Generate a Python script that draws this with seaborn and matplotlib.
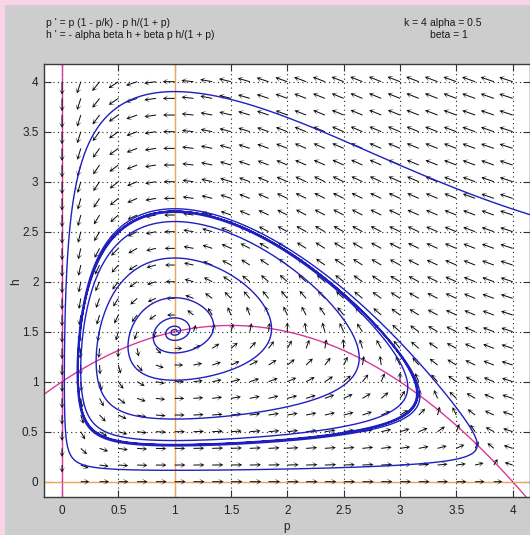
import numpy as np
import pandas as pd
import matplotlib
matplotlib.use("Agg")
import matplotlib.pyplot as plt
from matplotlib.patches import Rectangle
import seaborn as sns

# model parameters
k = 4.0
alpha = 0.5
beta = 1.0

# display window
p_window = (-0.16, 4.154)
h_window = (-0.153, 4.177)
tick_values = [0, 0.5, 1, 1.5, 2, 2.5, 3, 3.5, 4]
tick_labels = ["0", "0.5", "1", "1.5", "2", "2.5", "3", "3.5", "4"]

# initial points of the solution curves and how long each is followed
start_p = [4.154, 1.02]
start_h = [2.67, 1.50]
run_time = [90.0, 150.0]

equation_lines = ["p ' = p (1 - p/k) - p h/(1 + p)",
                  "h ' = - alpha beta h + beta p h/(1 + p)"]
param_lines = [("k = 4", "alpha = 0.5"), ("", "beta = 1")]


def rhs(p, h):
    dp = p * (1 - p / k) - p * h / (1 + p)
    dh = -alpha * beta * h + beta * p * h / (1 + p)
    return dp, dh


def solve(p0, h0, t_end, dt=0.01):
    ps, hs = [p0], [h0]
    p, h = p0, h0
    for _ in range(int(t_end / dt)):
        k1 = rhs(p, h)
        k2 = rhs(p + dt / 2 * k1[0], h + dt / 2 * k1[1])
        k3 = rhs(p + dt / 2 * k2[0], h + dt / 2 * k2[1])
        k4 = rhs(p + dt * k3[0], h + dt * k3[1])
        p = p + dt / 6 * (k1[0] + 2 * k2[0] + 2 * k3[0] + k4[0])
        h = h + dt / 6 * (k1[1] + 2 * k2[1] + 2 * k3[1] + k4[1])
        if not (p_window[0] - 0.05 <= p <= p_window[1] + 0.05 and
                h_window[0] - 0.05 <= h <= h_window[1] + 0.05):
            break
        ps.append(p)
        hs.append(h)
    return np.array(ps), np.array(hs)


sns.set_style("white")
plt.rcParams["font.family"] = ["Liberation Sans", "DejaVu Sans"]

W, H = 530, 535
fig = plt.figure(figsize=(W / 100, H / 100), dpi=100, facecolor="#f8d4e6")
fig.patches.append(Rectangle((5 / W, 0), (W - 5) / W, (H - 5) / H,
                             transform=fig.transFigure, facecolor="#cdcdcd",
                             edgecolor="none", zorder=-10))

ax_left, ax_right, ax_top, ax_bottom = 44, 530, 64, 497
ax = fig.add_axes([ax_left / W, 1 - ax_bottom / H,
                   (ax_right - ax_left) / W, (ax_bottom - ax_top) / H])
ax.set_facecolor("white")
ax.set_xlim(*p_window)
ax.set_ylim(*h_window)

# pixels per data unit, used to give the arrows an even on-screen length
sx = (ax_right - ax_left) / (p_window[1] - p_window[0])
sy = (ax_bottom - ax_top) / (h_window[1] - h_window[0])

# direction field
gp, gh = np.meshgrid(np.arange(25) / 6, np.arange(25) / 6)
u, v = rhs(gp, gh)
up, vp = u * sx, v * sy
mag = np.hypot(u, v)
pix = np.hypot(up, vp)
pix[pix == 0] = 1
length = 11.5 * np.where(mag > 0, mag, 0) ** (1 / 6)
U = up / pix * length / sx
V = vp / pix * length / sy
ax.quiver(gp, gh, U, V, angles="xy", scale_units="xy", scale=1,
          color="#0a0a0a", units="dots", width=1.0, headwidth=6,
          headlength=5.5, headaxislength=2.5, zorder=3)

# nullclines
pp = np.linspace(p_window[0], p_window[1], 300)
null_df = pd.DataFrame({"p": pp, "h": (1 + pp) * (1 - pp / k)})
sns.lineplot(data=null_df, x="p", y="h", ax=ax, color="#d8399f", lw=1.0,
             sort=False, estimator=None, zorder=2)
ax.axvline(0, color="#d8399f", lw=1.0, zorder=2)
ax.axhline(0, color="#eda65a", lw=1.0, zorder=2)
ax.axvline(1, color="#eda65a", lw=1.0, zorder=2)

# solution curves
for p0, h0, T in zip(start_p, start_h, run_time):
    ps, hs = solve(p0, h0, T)
    sol = pd.DataFrame({"p": ps, "h": hs})
    sns.lineplot(data=sol, x="p", y="h", ax=ax, color="#1f1fc0", lw=1.0,
                 sort=False, estimator=None, zorder=4)

# grid, ticks, frame
ax.set_xticks(tick_values)
ax.set_xticklabels(tick_labels)
ax.set_yticks(tick_values)
ax.set_yticklabels(tick_labels)
ax.grid(True, color="#222222", linestyle=(0, (1, 3)), lw=0.8)
ax.tick_params(direction="in", length=5, width=0.8, color="#333333",
               labelsize=8.5, labelcolor="#222222", top=True, right=True,
               bottom=True, left=True)
ax.tick_params(axis="x", pad=6)
ax.tick_params(axis="y", pad=4)
for s in ax.spines.values():
    s.set_color("#3a3a3a")
    s.set_linewidth(1.0)
ax.set_xlabel("")
ax.set_ylabel("")
fig.text(287 / W, 1 - 527 / H, "p", fontsize=8.5, color="#222222",
         ha="center", va="center")
fig.text(16 / W, 1 - 282 / H, "h", fontsize=8.5, color="#222222",
         ha="center", va="center", rotation=90)

# header text
for i, line in enumerate(equation_lines):
    fig.text(46 / W, 1 - (22.5 + 12 * i) / H, line, fontsize=7.5,
             color="#1a1a1a", ha="left", va="center")
for i, (a, b) in enumerate(param_lines):
    if a:
        fig.text(404 / W, 1 - (22.5 + 12 * i) / H, a, fontsize=7.5,
                 color="#1a1a1a", ha="left", va="center")
    fig.text(430 / W, 1 - (22.5 + 12 * i) / H, b, fontsize=7.5,
             color="#1a1a1a", ha="left", va="center")

fig.savefig("out.png", dpi=100, facecolor=fig.get_facecolor())
